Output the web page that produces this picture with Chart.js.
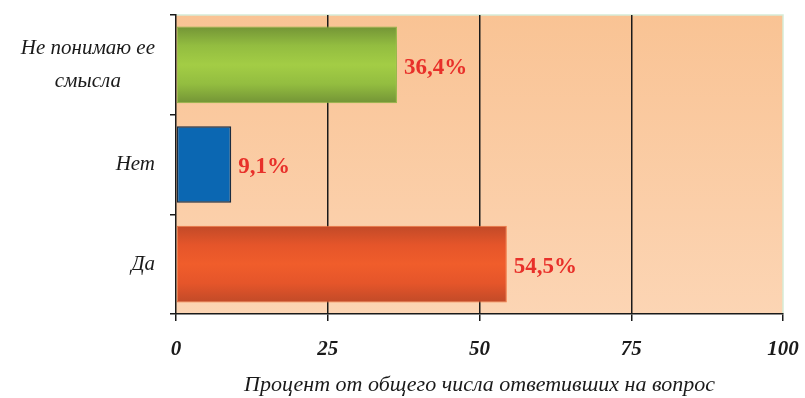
<!DOCTYPE html>
<html>
<head>
<meta charset="utf-8">
<script src="https://cdn.jsdelivr.net/npm/chart.js@4"></script>
<style>
  html, body { margin: 0; padding: 0; background: #ffffff; }
  #wrap { width: 805px; height: 398px; }
</style>
</head>
<body>
<div id="wrap"><canvas id="c" width="805" height="398"></canvas></div>
<script>
// Answer categories (top to bottom) and share of respondents, %
const categories = [['Не понимаю ее', 'смысла'], ['Нет'], ['Да']];
const values = [36.4, 9.1, 54.5];
const xTicks = [0, 25, 50, 75, 100];
const axisTitle = 'Процент от общего числа ответивших на вопрос';

const SERIF = '"Liberation Serif", "DejaVu Serif", serif';
const BAR_FRACTION = 0.77;

// Each bar gets its own fill: a shaded green, a flat blue, a shaded orange
function barFill(ctx) {
  const chart = ctx.chart;
  const i = ctx.dataIndex;
  if (i === 1) return '#0b67b2';
  const y = chart.scales.y;
  if (!y || !chart.chartArea) return i === 0 ? '#9cc744' : '#ef5a28';
  const c = y.getPixelForValue(i);
  const h = Math.abs(y.getPixelForValue(1) - y.getPixelForValue(0)) * BAR_FRACTION;
  const g = chart.ctx.createLinearGradient(0, c - h / 2, 0, c + h / 2);
  if (i === 0) {
    g.addColorStop(0, '#739436');
    g.addColorStop(0.25, '#93bd40');
    g.addColorStop(0.5, '#a3cd45');
    g.addColorStop(0.75, '#93bd40');
    g.addColorStop(1, '#739436');
  } else {
    g.addColorStop(0, '#c14a28');
    g.addColorStop(0.25, '#e5552a');
    g.addColorStop(0.5, '#f05d2b');
    g.addColorStop(0.75, '#e5552a');
    g.addColorStop(1, '#c14a28');
  }
  return g;
}

// Peach plot background plus the pale frame on top and right
const plotBackground = {
  id: 'plotBackground',
  beforeDraw(chart) {
    const { ctx, chartArea: a } = chart;
    const g = ctx.createLinearGradient(0, a.top, 0, a.bottom);
    g.addColorStop(0, '#f9c394');
    g.addColorStop(1, '#fcd5b4');
    ctx.save();
    ctx.fillStyle = g;
    ctx.fillRect(a.left, a.top, a.right - a.left, a.bottom - a.top);
    ctx.strokeStyle = '#d6ebd6';
    ctx.lineWidth = 1.5;
    ctx.beginPath();
    ctx.moveTo(a.left, a.top);
    ctx.lineTo(a.right, a.top);
    ctx.lineTo(a.right, a.bottom);
    ctx.stroke();
    ctx.restore();
  }
};

// Category names to the left of the axis, lines centred within each block
const categoryLabels = {
  id: 'categoryLabels',
  afterDraw(chart) {
    const { ctx } = chart;
    const y = chart.scales.y;
    const right = 155;
    const lineH = 33;
    ctx.save();
    ctx.font = 'italic 21px ' + SERIF;
    ctx.fillStyle = '#1a1a1a';
    ctx.textBaseline = 'middle';
    categories.forEach((lines, i) => {
      const c = y.getPixelForValue(i);
      const widths = lines.map(t => ctx.measureText(t).width);
      const w = Math.max(...widths);
      const mid = right - w / 2;
      ctx.textAlign = 'center';
      lines.forEach((t, k) => {
        const yy = c + (k - (lines.length - 1) / 2) * lineH;
        ctx.fillText(t, mid, yy);
      });
    });
    ctx.restore();
  }
};

// Percentage written just past the end of each bar
const valueLabels = {
  id: 'valueLabels',
  afterDatasetsDraw(chart) {
    const { ctx } = chart;
    const meta = chart.getDatasetMeta(0);
    ctx.save();
    ctx.font = 'bold 23px ' + SERIF;
    ctx.fillStyle = '#e8302a';
    ctx.textAlign = 'left';
    ctx.textBaseline = 'middle';
    meta.data.forEach((bar, i) => {
      const txt = values[i].toFixed(1).replace('.', ',') + '%';
      ctx.fillText(txt, bar.x + 7, bar.y + 3);
    });
    ctx.restore();
  }
};

new Chart(document.getElementById('c'), {
  type: 'bar',
  data: {
    labels: categories.map(l => l.join(' ')),
    datasets: [{
      data: values,
      backgroundColor: barFill,
      borderColor: ['#8fb842', '#1b2c40', '#f0743f'],
      borderWidth: [1, 1.5, 1],
      borderSkipped: false,
      barPercentage: BAR_FRACTION,
      categoryPercentage: 1
    }]
  },
  options: {
    indexAxis: 'y',
    responsive: false,
    animation: false,
    devicePixelRatio: 1,
    layout: { padding: { top: 15, right: 22, left: 0, bottom: 0 } },
    plugins: {
      legend: { display: false },
      tooltip: { enabled: false }
    },
    scales: {
      x: {
        min: 0,
        max: 100,
        afterBuildTicks(scale) {
          scale.ticks = xTicks.map(v => ({ value: v }));
        },
        afterFit(scale) {
          scale.height = 398 - 314;
          scale.paddingRight = 0;
          scale.paddingLeft = 0;
        },
        grid: {
          color: ctx => (ctx.tick && (ctx.tick.value === 0 || ctx.tick.value === 100)) ? 'rgba(0,0,0,0)' : '#1a1a1a',
          lineWidth: 1.5,
          tickColor: '#1a1a1a',
          tickLength: 7,
          drawOnChartArea: true
        },
        border: { display: true, color: '#1a1a1a', width: 1.5 },
        ticks: {
          padding: 16,
          color: '#1a1a1a',
          font: { family: SERIF, size: 21, style: 'italic', weight: 'bold' }
        },
        title: {
          display: true,
          text: axisTitle,
          color: '#1a1a1a',
          padding: { top: 8, bottom: 0 },
          font: { family: SERIF, size: 22, style: 'italic' }
        }
      },
      y: {
        afterFit(scale) { scale.width = 176; },
        grid: {
          drawOnChartArea: false,
          tickColor: '#1a1a1a',
          tickLength: 6,
          lineWidth: 1.5
        },
        border: { display: true, color: '#1a1a1a', width: 1.5 },
        ticks: { display: false }
      }
    }
  },
  plugins: [plotBackground, categoryLabels, valueLabels]
});
</script>
</body>
</html>
